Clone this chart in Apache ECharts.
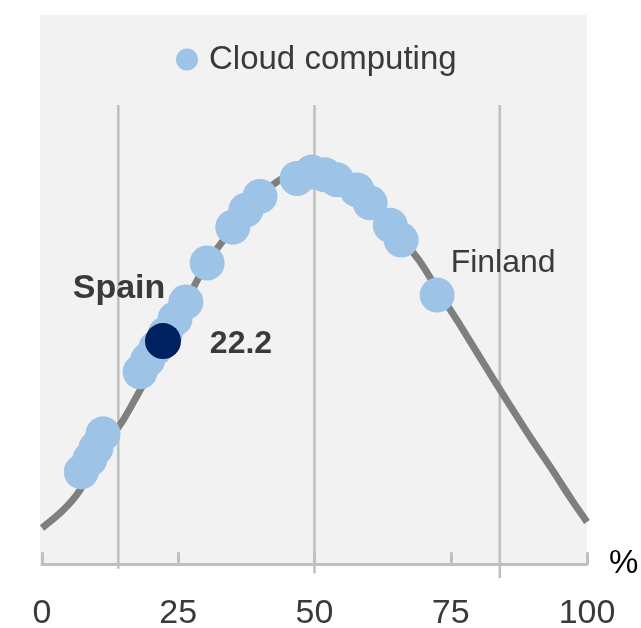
<!DOCTYPE html>
<html lang="en">
  <head>
    <meta charset="UTF-8" />
    <title>Cloud computing</title>
    <style>
      html, body { margin: 0; padding: 0; background: #fff; }
      #main { width: 641px; height: 628px; }
    </style>
  </head>
  <body>
    <script src="https://cdn.jsdelivr.net/npm/echarts@6/dist/echarts.min.js"></script>
    <div id="main"></div>
    <script>
      // bell curve: [percentile, height]
      const curve = [
        [0, 7.9], [3.9, 11.8], [7, 16.2], [10.6, 24.2], [14.9, 31.4], [18, 37.9],
        [22.6, 47.7], [26.6, 57.5], [30.3, 65.6], [35, 73.2], [40, 80.1], [43.7, 83.7],
        [46.8, 85], [49.9, 85.8], [53.4, 84.5], [57.4, 81.5], [62, 76.7], [65.7, 71.3],
        [69.4, 65.8], [72.5, 59.9], [76.7, 52.1], [80.9, 44], [85.1, 36], [89.3, 28.2],
        [93.6, 20.6], [97.2, 14], [100, 9.2]
      ]
      // countries (light dots)
      const countries = [
        [7.2, 20.1], [8.8, 22.9], [9.9, 25.3], [11.2, 28.4],
        [18, 41.9], [19.4, 44.5], [20.9, 47.1], [22.6, 50.1], [24.4, 53.4], [26.4, 57.1],
        [30.3, 65.6], [35, 73.4], [37.4, 77.1], [40, 80.1],
        [46.8, 84], [49.5, 85.4], [51.9, 84.8], [54.1, 83.7], [57.8, 81.5], [60.2, 78.7],
        [63.9, 73.8], [65.9, 70.6]
      ]
      const finland = [72.5, 58.6]
      const spain = [22.2, 48.6]
      // vertical reference lines: [x, lower end]
      const refLines = [[14, -1], [50, -2], [84, -3]]
      const refTop = 100
      const xTicks = [0, 25, 50, 75, 100]

      const FONT = '"Liberation Sans", Arial, sans-serif'
      const TXT = '#3a3a3a'
      const LIGHT = '#9dc3e6'

      const chart = echarts.init(document.getElementById('main'))

      const refSeries = refLines.map(([x, low]) => ({
        type: 'line',
        data: [[x, refTop], [x, low]],
        symbol: 'none',
        silent: true,
        z: 1,
        lineStyle: { color: '#bfbfbf', width: 2.5 }
      }))

      chart.setOption({
        animation: false,
        graphic: [{
          type: 'rect',
          z: -10,
          shape: { x: 40, y: 15, width: 547, height: 549 },
          style: { fill: '#f2f2f2' }
        }],
        legend: {
          data: ['Cloud computing'],
          left: 171,
          top: 38,
          itemWidth: 34,
          itemHeight: 22,
          textStyle: { fontFamily: FONT, fontSize: 33, color: TXT }
        },
        grid: { left: 42, right: 54, top: 105, bottom: 50, outerBoundsMode: 'none' },
        xAxis: {
          type: 'value',
          min: 0,
          max: 100,
          interval: 25,
          name: '%',
          nameLocation: 'end',
          nameGap: 22,
          nameTextStyle: { fontFamily: FONT, fontSize: 33, color: '#000', verticalAlign: 'middle' },
          axisLine: { onZero: true, lineStyle: { color: '#bfbfbf', width: 3 } },
          axisTick: { inside: true, length: 12, lineStyle: { color: '#bfbfbf', width: 3 } },
          axisLabel: {
            margin: 19,
            fontFamily: FONT,
            fontSize: 34,
            color: TXT,
            formatter: v => (xTicks.includes(v) ? String(v) : '')
          },
          splitLine: { show: false }
        },
        yAxis: { type: 'value', min: -3, max: 100, show: false },
        series: [
          ...refSeries,
          {
            type: 'line',
            data: curve,
            smooth: 0.3,
            symbol: 'none',
            z: 2,
            lineStyle: { color: '#7f7f7f', width: 7 }
          },
          {
            name: 'Cloud computing',
            type: 'scatter',
            data: countries,
            symbolSize: 35,
            z: 3,
            itemStyle: { color: LIGHT, opacity: 1 }
          },
          {
            name: 'Finland',
            type: 'scatter',
            data: [finland],
            symbolSize: 35,
            z: 3,
            itemStyle: { color: LIGHT, opacity: 1 },
            label: {
              show: true,
              position: 'inside',
              offset: [66, -32],
              formatter: 'Finland',
              fontFamily: FONT,
              fontSize: 32,
              color: TXT
            }
          },
          {
            name: 'Spain',
            type: 'scatter',
            data: [spain],
            symbolSize: 36,
            z: 4,
            itemStyle: { color: '#002060', opacity: 1 },
            label: {
              show: true,
              position: 'inside',
              offset: [78, 3],
              formatter: p => p.value[0].toFixed(1),
              fontFamily: FONT,
              fontSize: 32,
              fontWeight: 'bold',
              color: TXT
            }
          },
          {
            name: 'Spain name',
            type: 'scatter',
            data: [spain],
            symbolSize: 0,
            z: 4,
            silent: true,
            itemStyle: { opacity: 1 },
            label: {
              show: true,
              position: 'inside',
              offset: [-44, -52],
              formatter: 'Spain',
              fontFamily: FONT,
              fontSize: 34,
              fontWeight: 'bold',
              color: TXT,
              opacity: 1
            }
          }
        ]
      })
    </script>
  </body>
</html>
